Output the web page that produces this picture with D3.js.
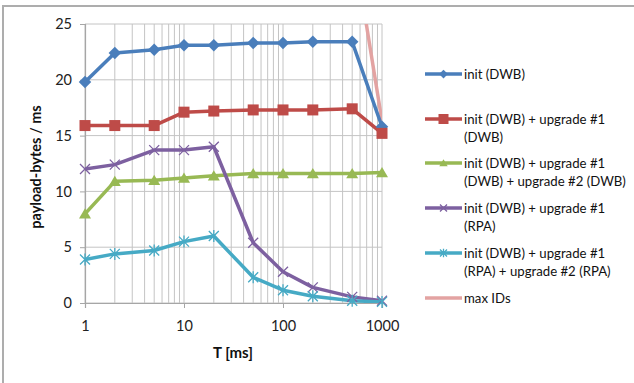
<!DOCTYPE html>
<html><head><meta charset="utf-8">
<script src="https://cdn.jsdelivr.net/npm/d3@7"></script>
<style>body{margin:0;background:#fff}svg{display:block}</style>
</head><body>
<script>
const tValues = [1, 2, 5, 10, 20, 50, 100, 200, 500, 1000];
const seriesNames = [
  ["init (DWB)"],
  ["init (DWB) + upgrade #1", "(DWB)"],
  ["init (DWB) + upgrade #1", "(DWB) + upgrade #2 (DWB)"],
  ["init (DWB) + upgrade #1", "(RPA)"],
  ["init (DWB) + upgrade #1", "(RPA) + upgrade #2 (RPA)"],
  ["max IDs"]
];
const initDWB = [19.8, 22.4, 22.7, 23.1, 23.1, 23.3, 23.3, 23.4, 23.4, 15.8];
const upg1DWB = [15.9, 15.9, 15.9, 17.1, 17.2, 17.3, 17.3, 17.3, 17.4, 15.2];
const upg2DWB = [8.0, 10.9, 11.0, 11.2, 11.4, 11.6, 11.6, 11.6, 11.6, 11.7];
const upg1RPA = [12.0, 12.4, 13.7, 13.7, 14.0, 5.4, 2.8, 1.4, 0.55, 0.2];
const upg2RPA = [3.9, 4.4, 4.7, 5.5, 6.0, 2.3, 1.15, 0.6, 0.2, 0.1];
const maxIDs = [null, null, null, null, null, null, null, null, 32.8, 16.3];
const yTicks = [0, 5, 10, 15, 20, 25];
const xTicks = [1, 10, 100, 1000];

const colors = ["#4A7EBB", "#BE4B48", "#98B954", "#7D60A0", "#46AAC5", "#E3A3A2"];
const markers = ["diamond", "square", "triangle", "x", "star", "none"];
const data = [initDWB, upg1DWB, upg2DWB, upg1RPA, upg2RPA, maxIDs];

const W = 634, H = 383;
const svg = d3.select("body").append("svg").attr("width", W).attr("height", H);
const font = "Lato, 'Open Sans', sans-serif";

// outer border (top & left visible)
svg.append("path").attr("d", "M3,383 V6 H634").attr("fill", "none").attr("stroke", "#ADADAD").attr("stroke-width", 2);

const x = d3.scaleLog().domain([1, 1000]).range([85, 382]);
const y = d3.scaleLinear().domain([0, 25]).range([303, 24]);

svg.append("defs").append("clipPath").attr("id", "clip")
  .append("rect").attr("x", 85).attr("y", 24).attr("width", 297).attr("height", 279);

// gridlines
const minor = [];
for (let d = 1; d <= 100; d *= 10) for (let k = 1; k <= 9; k++) minor.push(d * k);
minor.push(1000);
svg.append("g").selectAll("line").data(minor).join("line")
  .attr("x1", d => x(d)).attr("x2", d => x(d)).attr("y1", y(25)).attr("y2", y(0))
  .attr("stroke", "#C4C4C4").attr("stroke-width", 1);
svg.append("g").selectAll("line").data(yTicks).join("line")
  .attr("x1", 85).attr("x2", 382).attr("y1", d => y(d)).attr("y2", d => y(d))
  .attr("stroke", "#C4C4C4").attr("stroke-width", 1);

// axes
const yAxis = svg.append("g").attr("transform", "translate(85,0)")
  .call(d3.axisLeft(y).tickValues(yTicks).tickSize(5).tickPadding(8).tickFormat(d3.format("d")));
const xAxis = svg.append("g").attr("transform", "translate(0,303)")
  .call(d3.axisBottom(x).tickValues(xTicks).tickSize(5).tickPadding(13).tickFormat(d3.format("d")));
[yAxis, xAxis].forEach(a => {
  a.select(".domain").attr("stroke", "#A6A6A6").attr("stroke-width", 1.2);
  a.selectAll(".tick line").attr("stroke", "#A6A6A6");
  a.selectAll("text").attr("font-family", font).attr("font-size", 14.5).attr("fill", "#222");
});

// axis titles
svg.append("text").attr("x", 233).attr("y", 358).attr("text-anchor", "middle")
  .attr("font-family", font).attr("font-weight", "bold").attr("font-size", 15).attr("fill", "#111").text("T [ms]");
svg.append("text").attr("transform", "translate(41,167) rotate(-90)").attr("text-anchor", "middle")
  .attr("font-family", font).attr("font-weight", "bold").attr("font-size", 14.5).attr("fill", "#111").text("payload-bytes / ms");

const line = d3.line().defined(d => d.v != null).x(d => x(d.t)).y(d => y(d.v));
const plot = svg.append("g").attr("clip-path", "url(#clip)");
const plotM = svg.append("g");

function drawMarker(g, type, cx, cy, color, s) {
  if (type === "diamond") {
    g.append("path").attr("d", `M${cx},${cy - s * 1.25} L${cx + s * 1.25},${cy} L${cx},${cy + s * 1.25} L${cx - s * 1.25},${cy}Z`).attr("fill", color);
  } else if (type === "square") {
    g.append("rect").attr("x", cx - s).attr("y", cy - s).attr("width", 2 * s).attr("height", 2 * s).attr("fill", color);
  } else if (type === "triangle") {
    g.append("path").attr("d", `M${cx},${cy - s * 1.1} L${cx + s * 1.2},${cy + s * 0.95} L${cx - s * 1.2},${cy + s * 0.95}Z`).attr("fill", color);
  } else if (type === "x") {
    g.append("path").attr("d", `M${cx - s},${cy - s} L${cx + s},${cy + s} M${cx - s},${cy + s} L${cx + s},${cy - s}`).attr("stroke", color).attr("stroke-width", 1.3);
  } else if (type === "star") {
    g.append("path").attr("d", `M${cx - s},${cy - s} L${cx + s},${cy + s} M${cx - s},${cy + s} L${cx + s},${cy - s} M${cx},${cy - s * 1.2} L${cx},${cy + s * 1.2}`).attr("stroke", color).attr("stroke-width", 1.3);
  }
}

const order = [5, 0, 1, 2, 3, 4];
order.forEach(i => {
  const pts = tValues.map((t, j) => ({ t, v: data[i][j] }));
  plot.append("path").datum(pts).attr("d", line).attr("fill", "none")
    .attr("stroke", colors[i]).attr("stroke-width", 3.5).attr("stroke-linejoin", "round");
});
order.forEach(i => {
  if (markers[i] === "none") return;
  tValues.forEach((t, j) => {
    const v = data[i][j];
    if (v == null) return;
    drawMarker(plotM, markers[i], x(t), y(v), colors[i], markers[i] === "square" ? 5.5 : 5);
  });
});

// legend
const legY = [74, 119, 163, 208, 253, 298];
seriesNames.forEach((lines, i) => {
  const g = svg.append("g");
  g.append("line").attr("x1", 425).attr("x2", 462).attr("y1", legY[i]).attr("y2", legY[i])
    .attr("stroke", colors[i]).attr("stroke-width", 3.5);
  if (markers[i] !== "none") drawMarker(g, markers[i], 443.5, legY[i], colors[i], markers[i] === "square" ? 5 : 3.5);
  lines.forEach((s, k) => {
    g.append("text").attr("x", 464).attr("y", legY[i] + 5 + k * 18)
      .attr("font-family", font).attr("font-size", 13.2).attr("fill", "#111").text(s);
  });
});
</script>
</body></html>
